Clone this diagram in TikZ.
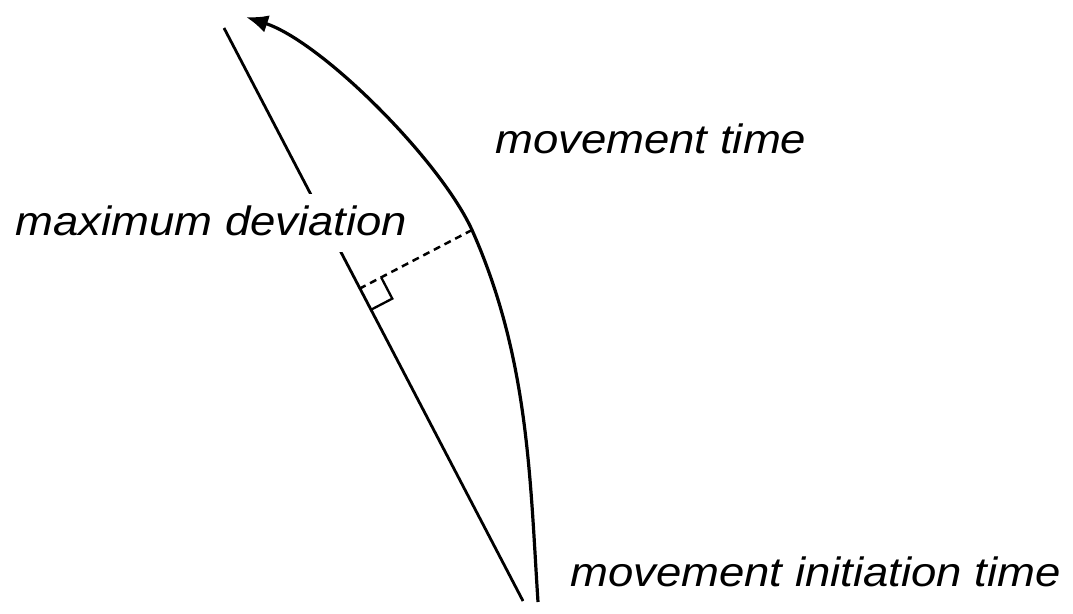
\documentclass[tikz,border=0pt]{standalone}
\usepackage{fontspec}
\newfontfamily\labfont[FakeStretch=1.11]{Liberation Sans}
\usetikzlibrary{arrows.meta,calc}
\tikzset{
  lbl/.style={font=\labfont\itshape\fontsize{41pt}{48pt}\selectfont, anchor=base west, inner xsep=0pt, inner ysep=0pt},
  guide/.style={line width=2.8pt},
  path/.style={line width=3.2pt, -{Latex[length=22pt,width=18pt]}},
  devline/.style={line width=2.5pt, dash pattern=on 7pt off 5pt},
  rightmark/.style={line width=2.3pt}
}
\begin{document}
\begin{tikzpicture}[x=1pt,y=-1pt]
\useasboundingbox (0,0) rectangle (1073,613);
% straight reference line
\coordinate (lineTop) at (224,28);
\coordinate (lineBot) at (523,601);
\draw[guide] (lineTop) -- (lineBot);
% movement path
\coordinate (pathStart) at (538,602);
\coordinate (devPt) at (472,230);
\coordinate (pathEnd) at (246,17);
\draw[path] (pathStart) .. controls (530,480) and (529,358) .. (devPt)
  .. controls (440,160) and (322,42) .. (pathEnd);
% maximum deviation
\coordinate (foot) at ($(lineTop)!(devPt)!(lineBot)$);
\draw[devline] (devPt) -- (foot);
\coordinate (m1) at ($(foot)!24pt!(devPt)$);
\coordinate (m2) at ($(foot)!24pt!(lineBot)$);
\draw[rightmark] (m1) -- ($(m1)+(m2)-(foot)$) -- (m2);
% labels
\node[lbl, fill=white, text height=41pt, text depth=17pt] (maxdev) at (15,235) {maximum deviation};
\node[lbl] (mt) at (495,153) {movement time};
\node[lbl] (mit) at (570,586) {movement initiation time};
\end{tikzpicture}
\end{document}
